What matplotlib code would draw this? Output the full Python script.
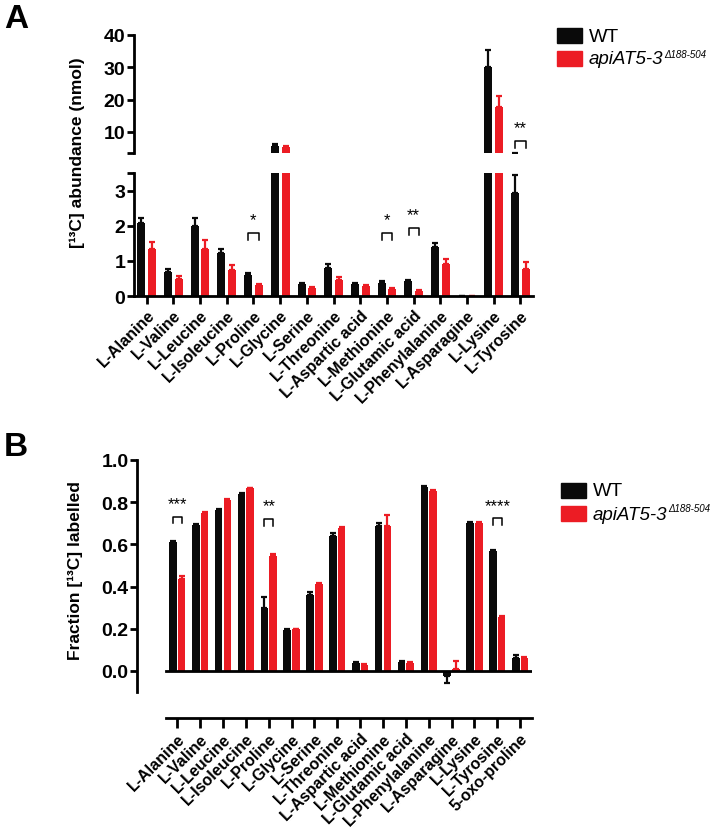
import matplotlib
matplotlib.use("Agg")
import matplotlib.pyplot as plt
from matplotlib.patches import Rectangle
import numpy as np

plt.rcParams['font.family'] = ['Liberation Sans', 'DejaVu Sans']

# ---- data -------------------------------------------------------------
aa_a = ['L-Alanine', 'L-Valine', 'L-Leucine', 'L-Isoleucine', 'L-Proline',
        'L-Glycine', 'L-Serine', 'L-Threonine', 'L-Aspartic acid',
        'L-Methionine', 'L-Glutamic acid', 'L-Phenylalanine', 'L-Asparagine',
        'L-Lysine', 'L-Tyrosine']
aa_b = aa_a + ['5-oxo-proline']

# panel A: [13C] abundance (nmol)
abund_wt = [2.07, 0.67, 1.99, 1.22, 0.59, 5.6, 0.35, 0.81, 0.34, 0.37, 0.43,
            1.39, 0.0, 30.2, 2.93]
abund_wt_err = [0.16, 0.10, 0.22, 0.12, 0.06, 0.6, 0.03, 0.10, 0.02, 0.06,
                0.03, 0.12, 0.0, 5.2, 0.5]
abund_mut = [1.33, 0.49, 1.34, 0.75, 0.32, 5.3, 0.24, 0.46, 0.29, 0.21, 0.15,
             0.91, 0.0, 17.6, 0.78]
abund_mut_err = [0.22, 0.07, 0.25, 0.13, 0.03, 0.5, 0.02, 0.07, 0.03, 0.03,
                 0.02, 0.15, 0.0, 3.4, 0.18]

# panel B: fraction labelled
frac_wt = [0.609, 0.691, 0.762, 0.841, 0.298, 0.195, 0.361, 0.641, 0.039,
           0.685, 0.043, 0.872, -0.024, 0.699, 0.567, 0.061]
frac_wt_err = [0.005, 0.006, 0.005, 0.004, 0.052, 0.003, 0.015, 0.013, 0.004,
               0.015, 0.004, 0.004, 0.034, 0.005, 0.008, 0.013]
frac_mut = [0.436, 0.748, 0.811, 0.865, 0.546, 0.197, 0.413, 0.677, 0.030,
            0.688, 0.038, 0.854, 0.011, 0.700, 0.255, 0.061]
frac_mut_err = [0.013, 0.004, 0.005, 0.003, 0.008, 0.003, 0.004, 0.004, 0.003,
                0.052, 0.003, 0.003, 0.036, 0.004, 0.004, 0.003]

# significance: (category index, stars, bracket height)
sig_a = [(4, '*', 1.79), (9, '*', 1.79), (10, '**', 1.94)]
sig_a_top = [(14, '**', 7.2)]
sig_b = [(0, '***', 0.731), (4, '**', 0.72), (14, '****', 0.724)]

BLACK = '#0a0a0a'
RED = '#ec1c24'
mut_name = 'apiAT5-3'
mut_sup = '\u0394188-504'

W, H = 715, 828
fig = plt.figure(figsize=(W / 100, H / 100), dpi=100)


def fax(x0, y0, x1, y1):
    return fig.add_axes([x0 / W, 1 - y1 / H, (x1 - x0) / W, (y1 - y0) / H])


def draw_bars(ax, wt, wt_err, mut, mut_err, off, width):
    x = np.arange(len(wt))
    wt = np.array(wt)
    mut = np.array(mut)
    for xs, vals, errs, col in [(x - off, wt, np.array(wt_err), BLACK),
                                (x + off, mut, np.array(mut_err), RED)]:
        ax.bar(xs, vals, width, color=col, zorder=2)
        up = np.where(vals >= 0, errs, 0)
        lo = np.where(vals < 0, errs, 0)
        ax.errorbar(xs, vals, yerr=[lo, up], fmt='none', ecolor=col,
                    elinewidth=1.6, capsize=2.2, capthick=1.6, zorder=2)


def bracket(ax, xc, top, leg, stars, half):
    ax.plot([xc - half, xc - half, xc + half, xc + half],
            [top - leg, top, top, top - leg], color='black', lw=1.1,
            clip_on=False, zorder=3)
    ax.annotate(stars, (xc, top), xytext=(0, 4), textcoords='offset points',
                ha='center', va='bottom', fontsize=12, clip_on=False)


def style(ax):
    for s in ['top', 'right']:
        ax.spines[s].set_visible(False)
    for s in ['left', 'bottom']:
        ax.spines[s].set_linewidth(2)
    ax.tick_params(axis='y', width=2, length=5, labelsize=14, pad=1)
    ax.tick_params(axis='x', width=2, length=6, pad=2)
    for lab in ax.get_yticklabels():
        lab.set_fontweight('bold')


# ---- panel A (broken axis) --------------------------------------------
xlA = (-0.494, 14.47)
axT = fax(133.5, 36, 533, 154)
axL = fax(133.5, 174, 533, 297)
for ax in (axT, axL):
    draw_bars(ax, abund_wt, abund_wt_err, abund_mut, abund_mut_err, 0.2, 0.3)
    ax.set_xlim(*xlA)
    ax.set_facecolor('none')

axT.set_ylim(3.5, 40)
axT.set_xticks([])
axT.set_yticks([3.5, 10, 20, 30, 40])
axT.set_yticklabels(['', '10', '20', '30', '40'])
style(axT)
axT.spines['bottom'].set_visible(False)

axL.set_ylim(0, 3.5)
axL.set_yticks([0, 1, 2, 3, 3.5])
axL.set_yticklabels(['0', '1', '2', '3', ''])
axL.set_xticks(np.arange(len(aa_a)))
axL.set_xticklabels(aa_a, rotation=45, ha='right', rotation_mode='anchor',
                    fontsize=11.5, fontweight='bold')
style(axL)

for i, st, top in sig_a:
    bracket(axL, i, top, 0.2, st, 0.19)
for i, st, top in sig_a_top:
    bracket(axT, i, top, 2.1, st, 0.19)

fig.text(77 / W, 1 - 153 / H, '[\u00b9\u00b3C] abundance (nmol)', rotation=90,
         ha='center', va='center', fontsize=12.5, fontweight='bold')

# ---- panel B ------------------------------------------------------------
axB = fax(137, 461, 532, 719)
draw_bars(axB, frac_wt, frac_wt_err, frac_mut, frac_mut_err, 0.19, 0.33)
axB.plot([-0.5, 15.5], [0, 0], color='black', lw=2, zorder=3)
axB.set_xlim(-1.765, 15.52)
axB.set_ylim(-0.223, 1.0)
axB.set_yticks(np.arange(0, 1.01, 0.2))
axB.set_yticklabels(['%.1f' % v for v in np.arange(0, 1.01, 0.2)])
axB.set_xticks(np.arange(len(aa_b)))
axB.set_xticklabels(aa_b, rotation=45, ha='right', rotation_mode='anchor',
                    fontsize=11.5, fontweight='bold')
style(axB)
axB.spines['left'].set_bounds(-0.1, 1.0)
axB.spines['bottom'].set_bounds(-0.5, 15.5)
axB.tick_params(axis='x', length=7)

for i, st, top in sig_b:
    bracket(axB, i, top, 0.032, st, 0.19)

fig.text(75 / W, 1 - 571 / H, 'Fraction [\u00b9\u00b3C] labelled', rotation=90,
         ha='center', va='center', fontsize=12.5, fontweight='bold')

# ---- panel letters & legends ------------------------------------------
fig.text(4 / W, 1 - 28 / H, 'A', fontsize=24, fontweight='bold', va='baseline')
fig.text(4 / W, 1 - 456 / H, 'B', fontsize=24, fontweight='bold', va='baseline')

renderer = fig.canvas.get_renderer()


def legend(x0, y0):
    for k, col in enumerate([BLACK, RED]):
        y = y0 + k * 23
        fig.patches.append(Rectangle((x0 / W, 1 - (y + 15) / H), 25 / W,
                                     15 / H, transform=fig.transFigure,
                                     color=col))
    base = y0 + 12.5
    fig.text((x0 + 32) / W, 1 - base / H, 'WT', fontsize=14, va='baseline')
    base += 23
    t = fig.text((x0 + 32) / W, 1 - base / H, mut_name, fontsize=13.5,
                 fontstyle='italic', va='baseline')
    bb = t.get_window_extent(renderer)
    fig.text((bb.x1 + 0.5) / W, 1 - (base - 7) / H, mut_sup, fontsize=7,
             fontstyle='italic', va='baseline')


legend(557, 29)
legend(561, 484)

fig.savefig('out.png', dpi=100)
